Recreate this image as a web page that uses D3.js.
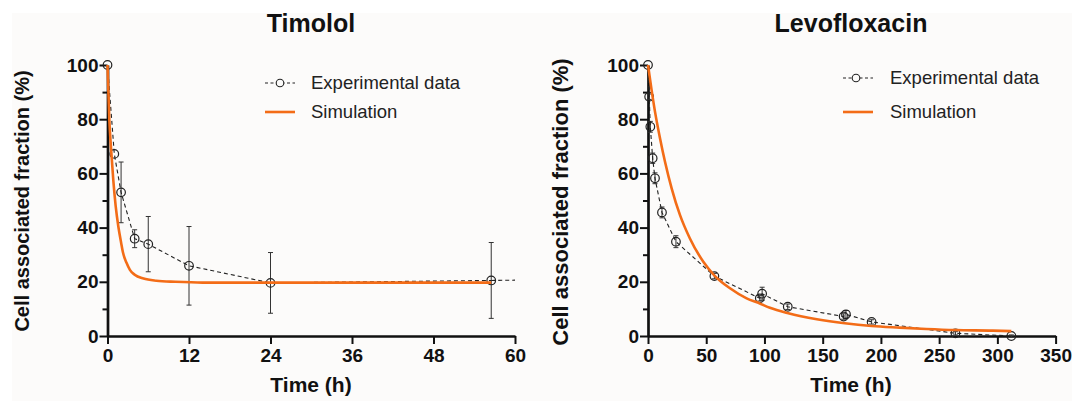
<!DOCTYPE html>
<html>
<head>
<meta charset="utf-8">
<script src="https://cdn.jsdelivr.net/npm/d3@7"></script>
<style>
  html, body { margin: 0; padding: 0; background: #ffffff; }
  svg { display: block; }
  text { font-family: "Liberation Sans", Arial, Helvetica, sans-serif; }
</style>
</head>
<body>
<svg id="chart" width="1072" height="401"></svg>
<script>
// ---------- DATA ----------
// Timolol
const timTime = [0, 1, 2, 4, 6, 12, 24, 56.5];
const timMean = [100, 67.2, 53, 35.9, 33.9, 25.9, 19.6, 20.5];
const timErr  = [0, 0, 11.2, 3.3, 10.2, 14.5, 11.2, 14];
const timTailTime = [56.5, 60];
const timTailVal  = [20.5, 20.6];
const timSimTime = [0, 0.27, 0.5, 0.85, 1.2, 1.6, 2, 2.3, 2.8, 3.3, 4, 5.3, 7.2, 10, 14, 24, 40, 56.5];
const timSimVal  = [100, 79.7, 70, 57.6, 48, 40.3, 34.5, 30.6, 27, 24.4, 22.6, 21.2, 20.4, 20, 19.7, 19.7, 19.7, 19.7];
const timXTicks = [0, 12, 24, 36, 48, 60];

// Levofloxacin
const levoTime = [0, 1, 2, 4, 6, 12, 24, 57, 96, 98, 120, 168, 170, 192, 264, 312];
const levoMean = [100, 88.3, 77.2, 65.6, 58.2, 45.6, 34.8, 22.1, 13.9, 15.6, 10.8, 7.2, 8.0, 5.2, 1.0, 0];
const levoErr  = [0, 1.0, 2.0, 1.9, 2.0, 2.0, 2.2, 1.0, 1.0, 2.4, 1.0, 1.0, 1.4, 0.8, 0.6, 0.4];
const levoSimTime = [0, 3, 6, 10.3, 14.6, 20.3, 27.5, 36, 47.5, 56.7, 70.4, 84.7, 96, 104.7, 120.5, 145, 169, 192, 216, 239, 264, 296, 312];
const levoSimVal  = [100, 91, 82.8, 73, 64.3, 54.5, 44.6, 36, 27.4, 22.5, 17.6, 13.9, 12, 10.4, 8.4, 6.2, 4.7, 3.7, 3.1, 2.6, 2.2, 2.0, 1.8];
const levoXTicks = [0, 50, 100, 150, 200, 250, 300, 350];

const yMajor = [0, 20, 40, 60, 80, 100];
const yMinor = [10, 30, 50, 70, 90];
const legendLabels = ["Experimental data", "Simulation"];

// ---------- STYLE ----------
const ORANGE = "#f36c17";
const FONT = '"Liberation Sans", Arial, Helvetica, sans-serif';

const svg = d3.select("#chart");
svg.append("rect").attr("x", 12).attr("y", 13).attr("width", 1060).attr("height", 388).attr("fill", "#fcfbfa");

function zip(a, b) { return a.map((v, i) => [v, b[i]]); }

function panel(cfg) {
  const x = d3.scaleLinear().domain(cfg.xDomain).range(cfg.xRange);
  const y = d3.scaleLinear().domain([0, 100]).range([336, 65]);
  const g = svg.append("g");

  // title
  g.append("text").attr("x", cfg.titleX).attr("y", 32).attr("text-anchor", "middle")
    .attr("font-size", 25).attr("font-weight", "bold").attr("fill", "#111").text(cfg.title);

  // y axis minor
  const yMin = g.append("g").attr("transform", `translate(${cfg.xRange[0]},0)`)
    .call(d3.axisLeft(y).tickValues(yMinor).tickSize(5).tickFormat("").tickSizeOuter(0));
  yMin.select(".domain").remove();
  yMin.selectAll("line").attr("stroke", "#111").attr("stroke-width", 2);

  // y axis major
  const yAx = g.append("g").attr("transform", `translate(${cfg.xRange[0]},0)`)
    .call(d3.axisLeft(y).tickValues(yMajor).tickSize(8).tickPadding(1).tickSizeOuter(0));
  yAx.select(".domain").attr("stroke", "#111").attr("stroke-width", 2.7);
  yAx.selectAll("line").attr("stroke", "#111").attr("stroke-width", 2);
  yAx.selectAll("text").attr("font-size", 19).attr("font-weight", "bold").attr("fill", "#111").attr("font-family", FONT);

  // x axis
  const xAx = g.append("g").attr("transform", `translate(0,336)`)
    .call(d3.axisBottom(x).tickValues(cfg.xTicks).tickSize(8).tickPadding(5).tickSizeOuter(0));
  xAx.select(".domain").attr("stroke", "#111").attr("stroke-width", 2.7);
  xAx.selectAll("line").attr("stroke", "#111").attr("stroke-width", 2);
  xAx.selectAll("text").attr("font-size", 19).attr("font-weight", "bold").attr("fill", "#111").attr("font-family", FONT);

  // axis titles
  g.append("text").attr("x", cfg.xTitleX).attr("y", 392).attr("text-anchor", "middle")
    .attr("font-size", 21).attr("font-weight", "bold").attr("fill", "#111").text("Time (h)");
  g.append("text").attr("transform", `translate(${cfg.yTitleX},${cfg.yTitleY}) rotate(-90)`)
    .attr("text-anchor", "middle").attr("font-size", cfg.yTitleSize).attr("font-weight", "bold")
    .attr("fill", "#111").text("Cell associated fraction (%)");

  const pts = zip(cfg.time, cfg.mean);

  // error bars
  const eb = g.append("g").attr("stroke", "#333").attr("stroke-width", 1);
  cfg.time.forEach((t, i) => {
    const e = cfg.err[i];
    if (!e) return;
    const cx = x(t);
    eb.append("line").attr("x1", cx).attr("x2", cx).attr("y1", y(cfg.mean[i] + e)).attr("y2", y(cfg.mean[i] - e));
    eb.append("line").attr("x1", cx - 2.5).attr("x2", cx + 2.5).attr("y1", y(cfg.mean[i] + e)).attr("y2", y(cfg.mean[i] + e));
    eb.append("line").attr("x1", cx - 2.5).attr("x2", cx + 2.5).attr("y1", y(cfg.mean[i] - e)).attr("y2", y(cfg.mean[i] - e));
  });

  // dashed line
  const line = d3.line().x(d => x(d[0])).y(d => y(d[1]));
  g.append("path").datum(pts).attr("d", line).attr("fill", "none")
    .attr("stroke", "#222").attr("stroke-width", 1.1).attr("stroke-dasharray", "4,3");
  if (cfg.tail) {
    g.append("path").datum(cfg.tail).attr("d", line).attr("fill", "none")
      .attr("stroke", "#222").attr("stroke-width", 1.1).attr("stroke-dasharray", "4,3");
  }

  // circles
  g.append("g").selectAll("circle").data(pts).join("circle")
    .attr("cx", d => x(d[0])).attr("cy", d => y(d[1])).attr("r", 4.3)
    .attr("fill", "none").attr("stroke", "#222").attr("stroke-width", 1.2);

  // simulation
  const sline = d3.line().x(d => x(d[0])).y(d => y(d[1])).curve(d3.curveMonotoneX);
  g.append("path").datum(zip(cfg.simTime, cfg.simVal)).attr("d", sline).attr("fill", "none")
    .attr("stroke", ORANGE).attr("stroke-width", 2.6);

  // legend
  const L = cfg.legend;
  const lg = g.append("g");
  lg.append("line").attr("x1", L.x0).attr("x2", L.x1).attr("y1", L.y1).attr("y2", L.y1)
    .attr("stroke", "#222").attr("stroke-width", 1.1).attr("stroke-dasharray", "3,2.5");
  lg.append("circle").attr("cx", L.cx).attr("cy", L.y1).attr("r", 3.8)
    .attr("fill", "#fcfbfa").attr("stroke", "#222").attr("stroke-width", 1.1);
  lg.append("line").attr("x1", L.x0).attr("x2", L.x1).attr("y1", L.y2).attr("y2", L.y2)
    .attr("stroke", ORANGE).attr("stroke-width", 2.6);
  lg.append("text").attr("x", L.tx).attr("y", L.y1).attr("dy", "0.35em").attr("font-size", 18.5)
    .attr("fill", "#222").text(legendLabels[0]);
  lg.append("text").attr("x", L.tx).attr("y", L.y2).attr("dy", "0.35em").attr("font-size", 18.5)
    .attr("fill", "#222").text(legendLabels[1]);
}

panel({
  title: "Timolol", titleX: 311,
  xDomain: [0, 60], xRange: [107.5, 515], xTicks: timXTicks, xTitleX: 311,
  yTitleX: 29, yTitleY: 201, yTitleSize: 20,
  time: timTime, mean: timMean, err: timErr,
  tail: zip(timTailTime, timTailVal),
  simTime: timSimTime, simVal: timSimVal,
  legend: { x0: 265, x1: 295, cx: 280, y1: 83, y2: 112, tx: 311 }
});

panel({
  title: "Levofloxacin", titleX: 851,
  xDomain: [0, 350], xRange: [648, 1055.6], xTicks: levoXTicks, xTitleX: 851,
  yTitleX: 568, yTitleY: 202, yTitleSize: 22,
  time: levoTime, mean: levoMean, err: levoErr,
  tail: null,
  simTime: levoSimTime, simVal: levoSimVal,
  legend: { x0: 843, x1: 873, cx: 856, y1: 78, y2: 112, tx: 890 }
});
</script>
</body>
</html>
